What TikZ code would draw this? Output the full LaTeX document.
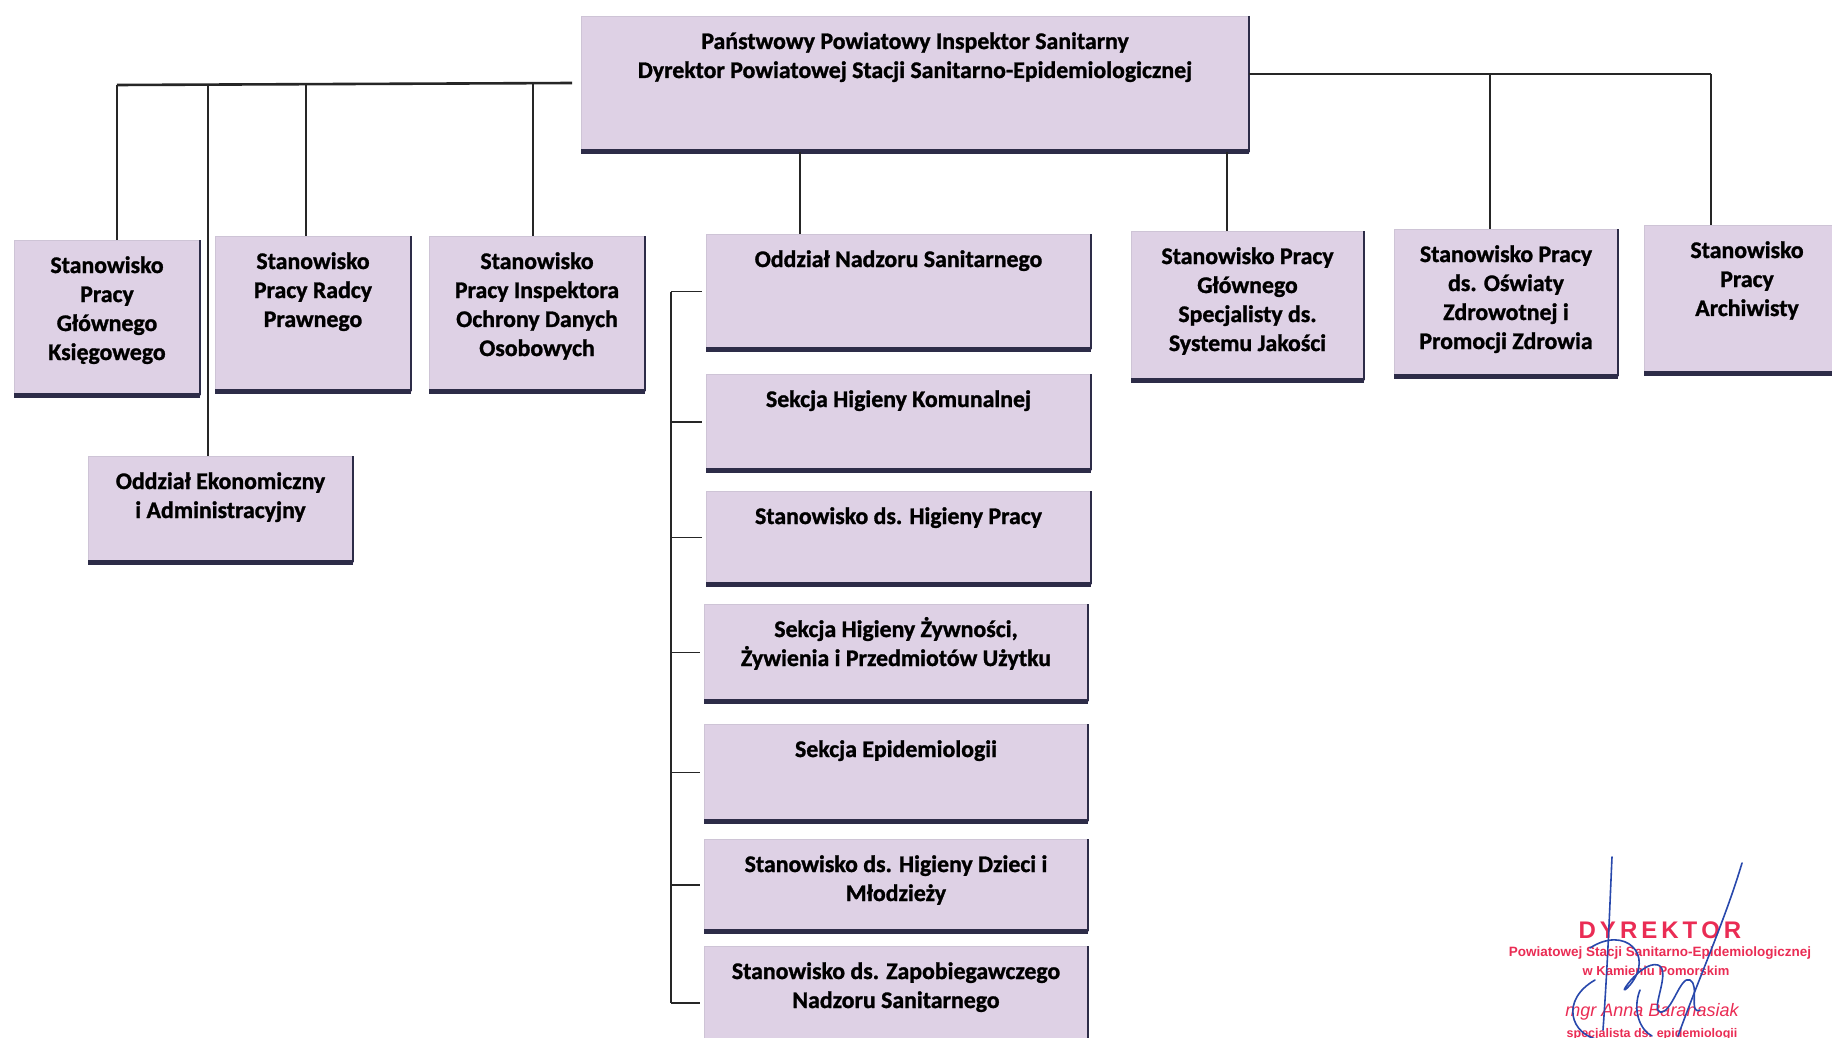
\documentclass[tikz,border=0pt]{standalone}
\usepackage{fontspec}
\setmainfont{Carlito}[BoldFont={Carlito Bold}, BoldFeatures={FakeBold=1.2}]
\newfontfamily\stampfont{Liberation Sans}
\definecolor{boxfill}{RGB}{222,209,229}
\definecolor{boxedge}{RGB}{206,196,214}
\definecolor{shadowc}{RGB}{45,44,72}
\definecolor{stampred}{RGB}{234,44,84}
\definecolor{inkblue}{RGB}{40,72,172}
\tikzset{
  obox/.style={fill=boxfill, draw=boxedge, line width=0.8pt, inner sep=0pt, outer sep=0pt},
  lbl/.style={font=\bfseries\fontsize{23.8}{29}\selectfont, inner sep=0pt, text=black},
  conn/.style={line width=1.8pt, draw=black!85},
  hconn/.style={line width=2.6pt, draw=black!85},
  rightedge/.style={line width=2pt, draw=shadowc},
  bottomedge/.style={line width=5pt, draw=shadowc},
  stamp/.style={text=stampred, inner sep=0pt},
  ink/.style={draw=inkblue, line width=1.6pt, line cap=round, line join=round},
}
\newcommand{\orgbox}[6]{%
  \node[obox, anchor=north west, minimum width={#4-#2}, minimum height={#5-#3}] (#1) at (#2,#3) {};
  \draw[rightedge] (#1.north east) -- (#1.south east);
  \draw[bottomedge] (#1.south west) -- (#1.south east);
  \node[lbl, anchor=base] (#1-t) at ([yshift=-33pt]#1.north) {\begin{tabular}[t]{@{}c@{}}#6\end{tabular}};
}
\begin{document}
\begin{tikzpicture}[x=1pt,y=-1pt]
\useasboundingbox[fill=white] (0,0) rectangle (1832,1038);

% top
\orgbox{top}{581}{16}{1249}{152}{Państwowy Powiatowy Inspektor Sanitarny\\Dyrektor Powiatowej Stacji Sanitarno-Epidemiologicznej}

% left
\orgbox{k}{14}{240}{200}{395}{Stanowisko\\Pracy\\Głównego\\Księgowego}
\orgbox{r}{215}{236}{411}{391}{Stanowisko\\Pracy Radcy\\Prawnego}
\orgbox{i}{429}{236}{645}{391}{Stanowisko\\Pracy Inspektora\\Ochrony Danych\\Osobowych}
\orgbox{e}{88}{456}{353}{562}{Oddział Ekonomiczny\\i Administracyjny}

% centre
\orgbox{ons}{706}{234}{1091}{349}{Oddział Nadzoru Sanitarnego}
\orgbox{c1}{706}{374}{1091}{470}{Sekcja Higieny Komunalnej}
\orgbox{c2}{706}{491}{1091}{584}{Stanowisko ds. Higieny Pracy}
\orgbox{c3}{704}{604}{1088}{701}{Sekcja Higieny Żywności,\\Żywienia i Przedmiotów Użytku}
\orgbox{c4}{704}{724}{1088}{821}{Sekcja Epidemiologii}
\orgbox{c5}{704}{839}{1088}{931}{Stanowisko ds. Higieny Dzieci i\\Młodzieży}
\orgbox{c6}{704}{946}{1088}{1060}{Stanowisko ds. Zapobiegawczego\\Nadzoru Sanitarnego}

% right
\orgbox{sj}{1131}{231}{1364}{380}{Stanowisko Pracy\\Głównego\\Specjalisty ds.\\Systemu Jakości}
\orgbox{oz}{1394}{229}{1618}{376}{Stanowisko Pracy\\ds. Oświaty\\Zdrowotnej i\\Promocji Zdrowia}
\orgbox{ar}{1644}{225}{1850}{373}{Stanowisko\\Pracy\\Archiwisty}

% left connectors
\coordinate (lh) at (572,83);
\coordinate (d1) at (117,85);
\coordinate (d2) at (208,85);
\coordinate (d3) at (306,84);
\coordinate (d4) at (533,83);
\draw[hconn] (lh) -- (d1);
\draw[conn] (d1) -- (d1 |- k.north);
\draw[conn] (d2) -- (d2 |- e.north);
\draw[conn] (d3) -- (d3 |- r.north);
\draw[conn] (d4) -- (d4 |- i.north);

% centre connectors
\coordinate (m1) at (800,0);
\draw[conn] (top.south -| m1) -- (ons.north -| m1);
\coordinate (bx) at (671,0);
\draw[conn] (bx |- ons.west) -- (bx |- c6.west);
\foreach \n in {ons,c1,c2,c3,c4,c5,c6}
  \draw[conn] (bx |- \n.west) -- ([xshift=-4pt]\n.west);

% right connectors
\coordinate (m2) at (1227,0);
\draw[conn] (top.south -| m2) -- (sj.north -| m2);
\coordinate (rh) at (1711,74);
\coordinate (d5) at (1490,74);
\draw[hconn] (top.east |- rh) -- (rh);
\draw[conn] (rh) -- (rh |- ar.north);
\draw[conn] (d5) -- (d5 |- oz.north);

% stamp
\node[stamp, font=\stampfont\bfseries\fontsize{24}{24}\selectfont] (s1) at (1660,930) {D\,Y\,R\,E\,K\,T\,O\,R};
\node[stamp, font=\stampfont\bfseries\fontsize{13.5}{14}\selectfont] (s2) at (1660,953) {Powiatowej Stacji Sanitarno-Epidemiologicznej};
\node[stamp, font=\stampfont\bfseries\fontsize{13}{14}\selectfont] (s3) at (1656,971) {w Kamieniu Pomorskim};
\node[stamp, font=\stampfont\itshape\fontsize{18}{18}\selectfont] (s4) at (1652,1012) {mgr Anna Baranasiak};
\node[stamp, font=\stampfont\bfseries\fontsize{12.5}{13}\selectfont] (s5) at (1652,1034) {specjalista ds. epidemiologii};

% signature
\draw[ink] (1612,857) .. controls (1610,900) and (1608,960) .. (1603,1030);
\draw[ink] (1742,863) .. controls (1725,920) and (1700,975) .. (1678,1036);
\draw[ink] (1590,948) .. controls (1625,925) and (1655,955) .. (1630,985)
  .. controls (1612,1005) and (1640,960) .. (1658,965)
  .. controls (1672,970) and (1650,1010) .. (1660,1012)
  .. controls (1672,1014) and (1680,975) .. (1690,980)
  .. controls (1700,985) and (1688,1015) .. (1700,1010);
\draw[ink] (1595,980) .. controls (1560,1000) and (1570,1035) .. (1600,1040);
\draw[ink] (1640,990) .. controls (1632,1010) and (1640,1030) .. (1652,1036);
\end{tikzpicture}
\end{document}
